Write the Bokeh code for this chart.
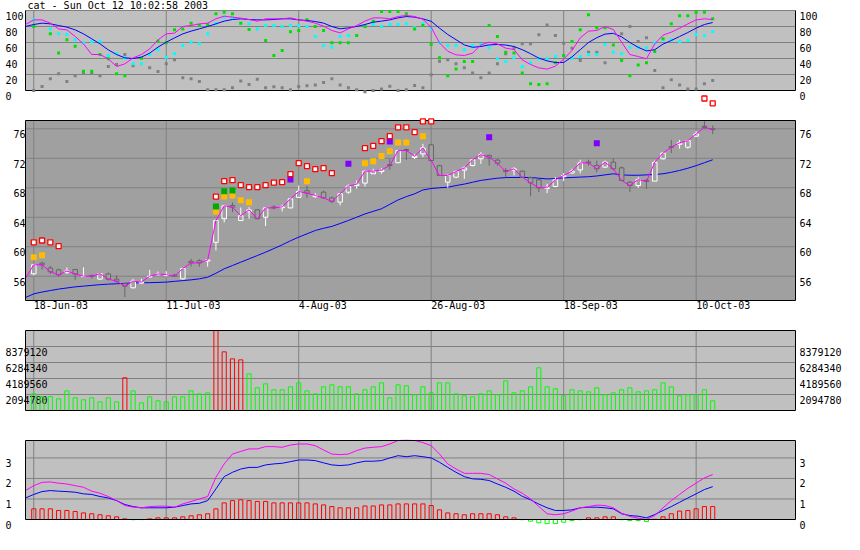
from bokeh.plotting import figure
from bokeh.layouts import column
from bokeh.models import Range1d
from bokeh.embed import file_html
from bokeh.resources import INLINE
from bokeh.core.properties import value

NaN = float("nan")

title_text = "cat - Sun Oct 12 10:02:58 2003"

# trading-day index, 0 = 18-Jun-03
bars = list(range(-1, 83))
vol_bars = list(range(0, 83))
date_ticks = [0, 16, 32, 48, 64, 80]
date_labels = ["18-Jun-03", "11-Jul-03", "4-Aug-03", "26-Aug-03", "18-Sep-03", "10-Oct-03"]

osc_ticks = [0, 20, 40, 60, 80, 100]
price_ticks = [56, 60, 64, 68, 72, 76]
vol_ticks = [2094780, 4189560, 6284340, 8379120]
macd_ticks = [0, 1, 2, 3]

osc_lo, osc_hi = 0, 100
price_lo, price_hi = 52.7, 77.13
vol_lo, vol_hi = 0, 10473900
macd_lo, macd_hi = 0, 3.85

# ---------------- oscillator panel ----------------
osc_blue = [80, 82.5, 84.2, 83.3, 81.25, 79.2, 75.8, 70.8, 64.6, 58.3,
            50.8, 45, 40.8, 40, 41.7, 46.7, 54.2, 60.4, 65.8, 70.8,
            74.2, 77.1, 80, 83.3, 86.7, 88.75, 89.6, 88.75, 88.3, 88.3,
            88.75, 89.6, 89.6, 88.3, 87.5, 86.25, 84.2, 80, 77.1, 78.3,
            80, 82.5, 85.4, 86.7, 88.3, 90.8, 92.5, 91.7, 89.5, 86.5,
            78, 70, 63.5, 57, 54, 55, 57, 57.5, 56.8, 55,
            51, 46, 40.5, 37, 35, 35, 42, 51, 60, 66,
            70.5, 71.5, 67, 60, 54, 49.5, 51, 58, 62.5, 67.5,
            72.5, 78, 82.5, 85]
osc_magenta = [82.5, 88.3, 88.3, 84.2, 77, 75.8, 67.5, 58.3, 45, 45,
               39.6, 30, 33.3, 40.8, 45, 52, 63.3, 70.8, 71.7, 80,
               81.25, 83.3, 84.2, 89.6, 92.9, 91.7, 90.4, 88.75, 86.7, 89.6,
               89.6, 89.6, 90.8, 88.3, 86.7, 84.2, 80.4, 75, 72, 77,
               81.25, 86.7, 90.8, 90.8, 89.6, 92.5, 93.75, 92.5, 89, 79,
               59.6, 49, 44.6, 43.75, 46.7, 57, 60.4, 58.3, 52.9, 51.25,
               38.3, 32.5, 28.3, 26.7, 30.4, 39.2, 50, 65.8, 74.2, 75,
               80, 76.25, 60.4, 45, 42.5, 39.6, 58.3, 69.2, 72.9, 77.9,
               83.3, 88.3, 89.6, 88.75]
osc_green = [NaN, 80, NaN, 70.8, 47, 63.3, 55.4, 24.2, 24.2, 45,
             39.6, 20.8, 18.3, NaN, 40.4, NaN, 61.7, 59.6, 75.8, 77,
             84.2, 81.25, 82.5, 95.8, 97.9, 95.8, 84.2, 76.25, NaN, 62.5,
             43.75, 50, 73.3, 75, 88.3, 80, 75, 59.6, 59.6, 59.6,
             68.75, 80, 86.7, 98.75, 98.75, 98.75, 95.8, 77, 81.25, 57.5,
             40.8, 18.3, 27, 36.25, 36.25, NaN, 81.25, 67.5, 47.9, 47,
             22, 8.3, 7.5, 8.3, 34.6, 43.75, 61.25, 75.8, 94.6, 78.3,
             78.3, 57, 37.5, 18.3, 32, 34.6, 48.75, 64.6, 83.3, 93.3,
             93.3, 97.9, 97.9, 89.6]
osc_cyan = [NaN, 88.3, NaN, 77, 70.8, 70, 63.3, 59.6, 61.25, 61.7,
            43.75, 45.8, 40.8, 33.3, 33.3, 45, 50.8, 41.7, 45.8, 56.25,
            60.4, 58.3, 70.8, 84.2, 91.7, 90.8, 84.2, 83.3, 77, 81.25,
            81.25, 80, 81.25, 81.25, 80, 67.5, 56.25, 54.2, 67.5, 68.75,
            NaN, 80, 82.5, 80, 82.5, 82.5, 83.3, 78.3, 83.3, 77,
            59.6, 56.25, 56.25, 50.8, 56.25, 57.5, 53.3, 39.6, 36.25, 40.8,
            30, 34.6, 39.6, 39.6, 42.5, 43.75, 40.4, 42.5, 45, 45,
            57.5, 47.9, 45.8, 54.2, 54.2, 53.3, 59.6, 63.3, 63.3, 61.25,
            62.5, 70, 68.75, 73.75]
osc_grey = [NaN, 0, 5, 14.6, 20.8, 11.25, 18.3, 21.7, 22, 18.3,
            30, 32.5, 45, 30.8, NaN, 28.3, 23.75, 33.3, 38.3, 15.8,
            14.6, 11.25, 0.8, 0.8, 0.8, 3.3, 12, 7.5, 14.2, 3.3,
            4.6, 3.3, 0.8, 5, 5.8, 7, 10, 14.6, 7, 3.3,
            0.8, -1.5, 0, 2, 5.4, 0, 0.8, 6.25, 3.3, 19.6,
            36.7, 38.3, 33.3, 28.3, 22, 15.8, 22, 33.3, 45.8, 52.9,
            58.3, 58.3, 69.6, 82, 68.75, 59.2, 52.9, 37.5, 47.9, 47.9,
            34.6, NaN, 70.8, 80, 61.25, 65.8, 25, 3.3, 13.3, 7,
            2, 2, 8.3, 12.5]
osc_alert_idx = [81, 82]
osc_alert_val = [-10, -16]

# ---------------- price panel ----------------
price_open = [55.6, 56.32, 57.76, 57.1, 56.86, 56.5, 56.9, 55.95, 56.1, 55.6,
              56.3, 55.6, 54.96, 54.42, 55.05, 55.9, 56.2, 56.1, 56.15, 55.64,
              58.0, 58.1, 58.05, 60.6, 63.8, 65.6, 63.56, 64.75, 65.0, 64.0,
              65.4, 65.3, 65.27, 66.7, 67.6, 66.8, 67.4, 66.63, 66.05, 67.4,
              68.3, 68.63, 69.9, 70.2, 71.15, 71.4, 73.2, 72.1, 72.6, 73.83,
              71.0, 68.76, 69.44, 70.4, 71.02, 71.93, 72.4, 71.75, 70.35, 70.4,
              70.25, 69.35, 69.08, 67.9, 68.17, 69.5, 70.0, 70.43, 71.5, 71.02,
              70.8, 71.47, 70.7, 68.76, 68.3, 69.0, 68.9, 71.93, 73.6, 73.9,
              73.5, 75.0, 76.35, 76.0]
price_high = [55.9, 57.67, 57.99, 57.4, 57.0, 57.2, 57.0, 57.2, 56.2, 56.4,
              56.5, 56.1, 55.0, 55.64, 55.64, 56.86, 56.63, 56.68, 56.3, 57.13,
              58.35, 58.3, 58.35, 63.65, 65.68, 66.0, 65.32, 65.37, 65.1, 65.37,
              65.6, 65.7, 66.63, 68.3, 68.3, 67.27, 67.63, 66.8, 67.27, 68.45,
              69.0, 70.34, 70.57, 70.7, 71.9, 73.15, 73.3, 72.6, 73.96, 73.96,
              71.1, 69.8, 70.34, 70.9, 71.93, 72.83, 72.47, 71.93, 70.66, 70.8,
              70.34, 69.53, 69.2, 68.53, 69.44, 70.0, 70.57, 71.8, 71.8, 71.7,
              71.7, 72.0, 70.9, 68.9, 69.44, 69.2, 71.7, 72.83, 74.5, 74.5,
              74.5, 75.7, 77.04, 76.45]
price_low = [55.5, 56.1, 56.86, 56.3, 55.95, 56.3, 55.5, 55.9, 55.7, 55.5,
             55.4, 54.96, 53.15, 54.37, 54.96, 55.8, 56.1, 55.95, 55.9, 55.55,
             57.3, 57.3, 57.3, 59.5, 63.3, 64.7, 63.47, 63.8, 63.7, 62.8,
             65.05, 64.8, 65.2, 66.6, 66.63, 66.63, 66.5, 65.9, 65.6, 67.18,
             67.86, 68.17, 69.9, 69.9, 70.43, 71.34, 71.8, 71.9, 72.15, 71.6,
             69.6, 68.0, 69.3, 69.2, 70.9, 71.25, 71.0, 71.0, 69.44, 69.67,
             69.35, 66.86, 67.4, 67.27, 68.08, 68.9, 69.98, 69.98, 71.0, 70.1,
             70.7, 70.35, 68.9, 67.4, 67.99, 67.86, 68.9, 71.84, 72.7, 73.3,
             73.3, 74.87, 76.0, 75.3]
price_close = [55.73, 57.54, 57.54, 56.6, 56.18, 56.7, 56.3, 56.0, 56.0, 56.35,
               55.6, 55.32, 54.64, 55.32, 55.2, 56.0, 56.3, 56.2, 56.0, 57.04,
               57.8, 57.8, 58.2, 63.56, 65.55, 65.37, 64.2, 65.0, 63.8, 65.27,
               65.27, 65.4, 66.5, 67.5, 67.27, 66.95, 66.63, 66.14, 67.18, 68.22,
               68.5, 70.25, 70.25, 70.43, 71.02, 73.06, 73.06, 72.3, 73.4, 71.7,
               69.67, 69.67, 70.2, 70.7, 71.8, 72.5, 72.15, 71.34, 70.2, 70.57,
               69.44, 68.67, 68.0, 68.0, 69.08, 69.67, 70.25, 71.38, 71.38, 70.57,
               71.47, 70.57, 68.99, 68.3, 69.12, 68.85, 71.47, 72.7, 73.5, 74.1,
               74.4, 75.3, 76.2, 75.9]
price_avg = [53.1, 53.6, 53.85, 54.05, 54.25, 54.4, 54.55, 54.65, 54.75, 54.85,
             54.92, 54.97, 55.03, 55.08, 55.1, 55.12, 55.15, 55.2, 55.3, 55.4,
             55.5, 55.64, 55.86, 56.4, 57.0, 57.45, 57.9, 58.35, 58.8, 59.26,
             59.75, 60.25, 60.8, 61.3, 61.75, 62.2, 62.5, 62.75, 63.15, 63.56,
             64.0, 64.45, 64.8, 65.15, 65.75, 66.35, 66.8, 67.18, 67.7, 67.9,
             68.0, 68.08, 68.3, 68.5, 68.75, 69.0, 69.15, 69.3, 69.38, 69.4,
             69.4, 69.4, 69.3, 69.2, 69.25, 69.35, 69.4, 69.45, 69.5, 69.6,
             69.75, 69.9, 69.75, 69.7, 69.7, 69.75, 69.8, 69.9, 70.1, 70.35,
             70.65, 71.0, 71.4, 71.8]

sig_red_idx = [0, 1, 2, 3, 22, 23, 24, 25, 26, 27, 28, 29, 30, 31, 32, 33, 34, 35, 36,
               40, 41, 42, 43, 44, 45, 46, 47, 48]
sig_red_val = [60.6, 60.84, 60.6, 60.07, 66.8, 68.9, 69.03, 68.35, 68.08, 68.08, 68.35,
               68.7, 68.76, 69.85, 71.34, 70.93, 70.52, 70.66, 70.0,
               73.37, 73.68, 74.33, 75.0, 76.2, 76.2, 75.55, 77.0, 77.0]
sig_orange_idx = [0, 1, 22, 23, 24, 25, 26, 33, 40, 41, 42, 43, 44, 45, 47]
sig_orange_val = [58.58, 58.85, 64.78, 66.8, 66.95, 66.3, 66.05, 68.9, 71.34, 71.6,
                  72.3, 72.97, 74.14, 74.14, 75.0]
sig_green_idx = [22, 23, 24]
sig_green_val = [65.46, 67.54, 67.63]
sig_purple_idx = [31, 38, 43, 55, 68]
sig_purple_val = [69.12, 71.25, 74.28, 74.87, 74.05]

# ---------------- volume panel ----------------
volume = [2180000, 1830000, 1830000, 1530000, 2570000, 1660000, 1400000, 1660000, 1130000, 1660000,
          1130000, 4280000, 2570000, 1000000, 1790000, 1270000, 1130000, 1790000, 1790000, 2570000,
          2180000, 2310000, 10470000, 7680000, 6760000, 6630000, 4800000, 2970000, 3490000, 2710000,
          2710000, 3100000, 3620000, 2570000, 2180000, 3100000, 3360000, 3100000, 3100000, 2180000,
          2710000, 3100000, 3620000, 1660000, 3360000, 3230000, 2050000, 3100000, 2310000, 3620000,
          3620000, 2180000, 1920000, 1790000, 2180000, 2570000, 2050000, 3880000, 2310000, 2570000,
          3100000, 5590000, 3100000, 2840000, 1920000, 2710000, 2570000, 2440000, 2970000, 2050000,
          2310000, 2710000, 2970000, 2440000, 2570000, 2710000, 3620000, 3100000, 1920000, 2050000,
          2050000, 2710000, 1270000]
vol_spike_idx = [11, 22, 23, 24, 25]

# ---------------- bottom (MACD-like) panel ----------------
macd_fast = [1.41, 1.65, 1.81, 1.83, 1.77, 1.73, 1.65, 1.57, 1.38, 1.28,
             1.12, 0.92, 0.68, 0.60, 0.57, 0.63, 0.65, 0.65, 0.60, 0.76,
             0.88, 1.0, 1.12, 2.06, 2.71, 3.19, 3.32, 3.44, 3.44, 3.55,
             3.55, 3.52, 3.63, 3.68, 3.68, 3.60, 3.39, 3.19, 3.16, 3.19,
             3.36, 3.48, 3.52, 3.55, 3.68, 3.85, 3.86, 3.85, 3.75, 3.60,
             3.19, 2.71, 2.46, 2.25, 2.25, 2.25, 2.19, 1.98, 1.77, 1.49,
             1.28, 1.0, 0.63, 0.28, 0.23, 0.28, 0.41, 0.57, 0.63, 0.70,
             0.68, 0.57, 0.31, 0.15, 0.06, 0.0, 0.19, 0.57, 0.92, 1.22,
             1.52, 1.77, 2.03, 2.19]
macd_slow = [1.05, 1.22, 1.36, 1.41, 1.38, 1.36, 1.33, 1.25, 1.22, 1.12,
             1.05, 0.92, 0.73, 0.63, 0.57, 0.57, 0.57, 0.57, 0.60, 0.68,
             0.76, 0.79, 0.92, 1.49, 2.09, 2.30, 2.46, 2.54, 2.54, 2.66,
             2.71, 2.74, 2.82, 2.90, 2.90, 2.87, 2.76, 2.66, 2.63, 2.66,
             2.76, 2.84, 2.84, 2.87, 3.0, 3.11, 3.06, 3.11, 3.06, 3.0,
             2.79, 2.54, 2.30, 2.09, 1.98, 1.96, 1.90, 1.73, 1.57, 1.38,
             1.13, 0.96, 0.75, 0.57, 0.44, 0.44, 0.47, 0.57, 0.60, 0.60,
             0.57, 0.52, 0.28, 0.19, 0.16, 0.08, 0.24, 0.44, 0.63, 0.84,
             1.05, 1.25, 1.46, 1.60]
macd_hist = [0.52, 0.52, 0.52, 0.44, 0.44, 0.39, 0.32, 0.28, 0.23, 0.18,
             0.13, 0.03, -0.01, -0.005, 0.03, 0.08, 0.08, 0.08, 0.13, 0.18,
             0.23, 0.28, 0.52, 0.81, 0.92, 0.96, 0.92, 0.88, 0.88, 0.81,
             0.81, 0.81, 0.81, 0.81, 0.76, 0.71, 0.63, 0.57, 0.57, 0.57,
             0.66, 0.66, 0.71, 0.71, 0.76, 0.76, 0.76, 0.76, 0.68, 0.47,
             0.32, 0.28, 0.23, 0.28, 0.28, 0.28, 0.23, 0.13, 0.08, -0.01,
             -0.08, -0.16, -0.2, -0.2, -0.13, -0.05, -0.01, 0.08, 0.08, 0.13,
             0.13, -0.01, -0.05, -0.05, -0.1, 0.01, 0.13, 0.28, 0.41, 0.44,
             0.52, 0.63, 0.63]

# ---------------- styling / layout ----------------
X_LO, X_HI = -1, 92
PX = 770 / 93.0
PAD_L, PAD_R = 25, 55
WIDTH = PAD_L + 770 + PAD_R
FONT = "DejaVu Sans Mono"
GRID = "#808080"
BG = "#c0c0c0"
BG_PRICE = "#a0a0a0"
TXT = dict(text_font=value(FONT), text_font_size="10px", text_align="left",
           text_baseline="middle", text_color="black")


def make_fig(lo, hi, frame_h, pad_top, pad_bottom):
    upp = (hi - lo) / frame_h
    f = figure(width=WIDTH, height=pad_top + frame_h + pad_bottom,
               x_range=Range1d(X_LO - PAD_L / PX, X_HI + PAD_R / PX),
               y_range=Range1d(lo - pad_bottom * upp, hi + pad_top * upp),
               output_backend="svg", toolbar_location=None,
               x_axis_location=None, y_axis_location=None,
               min_border=0, outline_line_color=None,
               background_fill_color="white", border_fill_color="white")
    f.xgrid.visible = False
    f.ygrid.visible = False
    return f


def panel_bg(f, lo, hi, bg):
    f.quad(left=[X_LO], right=[X_HI], bottom=[lo], top=[hi], fill_color=bg, line_color=None)


def panel_grid(f, lo, hi, ticks):
    f.segment(x0=X_LO, x1=X_HI, y0=ticks, y1=ticks, line_color=GRID, line_width=1)
    f.segment(x0=date_ticks, x1=date_ticks, y0=lo, y1=hi, line_color=GRID, line_width=1)


def panel_border(f, lo, hi):
    f.quad(left=[X_LO], right=[X_HI], bottom=[lo], top=[hi], fill_color=None,
           line_color="black", line_width=1)


def left_labels(f, ticks, dx, dy=5.5):
    f.text(x=X_LO, y=ticks, text=[str(t) for t in ticks], x_offset=dx, y_offset=dy, **TXT)


def right_labels(f, ticks, dy=5.5):
    f.text(x=X_HI, y=ticks, text=[str(t) for t in ticks], x_offset=4, y_offset=dy, **TXT)


# ---- panel 1: oscillators
f1 = make_fig(osc_lo, osc_hi, 80, 10, 20)
panel_bg(f1, osc_lo, osc_hi, BG)
panel_grid(f1, osc_lo, osc_hi, osc_ticks[1:])
panel_border(f1, osc_lo, osc_hi)
f1.segment(x0=X_LO, x1=X_HI, y0=[osc_hi], y1=[osc_hi], line_color=GRID, line_width=1)
f1.scatter(bars, osc_grey, marker="square", size=3, fill_color="#808080", line_color=None)
f1.scatter(bars, osc_cyan, marker="square", size=3, fill_color="#00ffff", line_color=None)
f1.scatter(bars, osc_green, marker="square", size=3, fill_color="#00e000", line_color=None)
f1.line(bars, osc_blue, line_color="#0000ff", line_width=1)
f1.line(bars, osc_magenta, line_color="#ff00ff", line_width=1)
f1.scatter(osc_alert_idx, osc_alert_val, marker="square", size=5, fill_color="white",
           line_color="#ff0000", line_width=1.3)
left_labels(f1, osc_ticks, -20)
right_labels(f1, osc_ticks)
f1.text(x=[X_LO], y=[osc_hi], text=[title_text], x_offset=2, y_offset=-5, **TXT)

# ---- panel 2: price
f2 = make_fig(price_lo, price_hi, 180, 10, 20)
panel_bg(f2, price_lo, price_hi, BG_PRICE)
panel_grid(f2, price_lo, price_hi, price_ticks)
f2.line(bars, price_avg, line_color="#0000ff", line_width=1)
cb = bars[1:]
c_open, c_close = price_open[1:], price_close[1:]
c_high, c_low = price_high[1:], price_low[1:]
c_col = ["white" if c >= o else "#666666" for o, c in zip(c_open, c_close)]
c_top = [max(o, c) for o, c in zip(c_open, c_close)]
c_bot = [min(o, c) for o, c in zip(c_open, c_close)]
f2.segment(x0=cb, x1=cb, y0=c_low, y1=c_high, line_color=c_col, line_width=1)
f2.vbar(x=cb, width=0.55, top=c_top, bottom=c_bot, fill_color=BG_PRICE, line_color=c_col, line_width=1)
f2.line(bars, price_close, line_color="#ff00ff", line_width=1)
panel_border(f2, price_lo, price_hi)
f2.scatter(sig_orange_idx, sig_orange_val, marker="square", size=6, fill_color="#ffbb00", line_color=None)
f2.scatter(sig_green_idx, sig_green_val, marker="square", size=6, fill_color="#00aa00", line_color=None)
f2.scatter(sig_purple_idx, sig_purple_val, marker="square", size=6, fill_color="#8000ff", line_color=None)
f2.scatter(sig_red_idx, sig_red_val, marker="square", size=5, fill_color="white",
           line_color="#ff0000", line_width=1.3)
left_labels(f2, price_ticks, -12)
right_labels(f2, price_ticks)
f2.text(x=date_ticks, y=price_lo, text=date_labels, x_offset=0, y_offset=5, **TXT)

# ---- panel 3: volume
f3 = make_fig(vol_lo, vol_hi, 80, 10, 10)
panel_bg(f3, vol_lo, vol_hi, BG)
panel_grid(f3, vol_lo, vol_hi, vol_ticks)
left_labels(f3, vol_ticks, -20)
v_col = ["#ff0000" if i in vol_spike_idx else "#00ff00" for i in vol_bars]
f3.vbar(x=vol_bars, width=0.5, top=volume, bottom=0, fill_color=None, line_color=v_col, line_width=1)
panel_border(f3, vol_lo, vol_hi)
right_labels(f3, vol_ticks)

# ---- panel 4: MACD-like
f4 = make_fig(macd_lo, macd_hi, 79, 20, 21)
panel_bg(f4, macd_lo, macd_hi, BG)
panel_grid(f4, macd_lo, macd_hi, macd_ticks[1:])
h_col = ["#ff0000" if h >= 0 else "#00ff00" for h in macd_hist]
f4.vbar(x=vol_bars, width=0.5, top=macd_hist, bottom=0, fill_color=None, line_color=h_col, line_width=1)
f4.line(bars, macd_slow, line_color="#0000ff", line_width=1)
f4.line(bars, macd_fast, line_color="#ff00ff", line_width=1)
panel_border(f4, macd_lo, macd_hi)
left_labels(f4, macd_ticks, -20, 5)
right_labels(f4, macd_ticks, 5)

layout = column(f1, f2, f3, f4, spacing=0)

open("out.html", "w").write(file_html(layout, INLINE))
